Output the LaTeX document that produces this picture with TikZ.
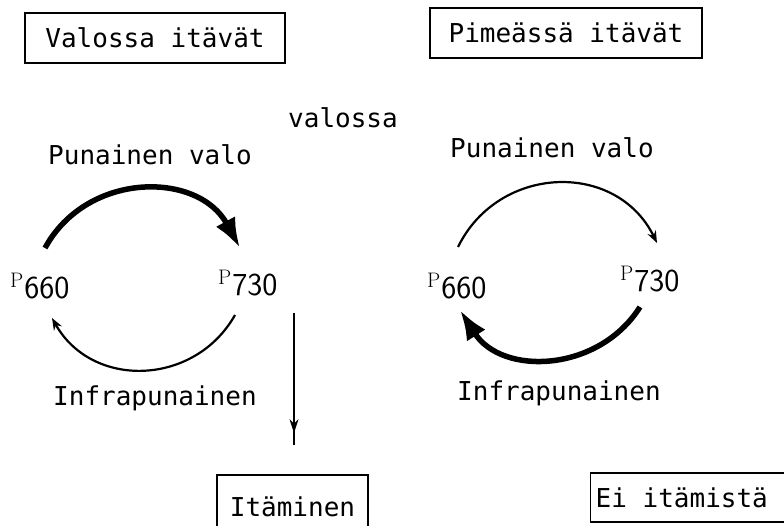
\documentclass[tikz,border=0pt]{standalone}
\usepackage{fontspec}
\newfontfamily\labfont{DejaVu Sans Mono}
\usetikzlibrary{arrows.meta,decorations.markings}
\newcommand\Plab[1]{{\rmfamily\fontsize{21}{21}\selectfont P}\kern1pt\raisebox{-11pt}{\sffamily\fontsize{32}{32}\selectfont #1}}
\begin{document}
\begin{tikzpicture}[x=1pt,y=-1pt,
  lbl/.style={font=\labfont\fontsize{26}{28}\selectfont, inner sep=0pt, anchor=base west},
  plbl/.style={inner sep=0pt, anchor=base west},
  boxnode/.style={draw, line width=1.4pt, font=\labfont\fontsize{26}{28}\selectfont, inner sep=0pt},
  thinarc/.style={line width=2.2pt},
  thickarc/.style={line width=5.5pt},
  bigtip/.style={-{Latex[length=30pt,width=22pt]}},
  smalltip/.style={-{Stealth[length=12pt,width=9pt]}}]
\useasboundingbox (0,0) rectangle (784,526);
\clip (0,0) rectangle (784,526);

% boxes
\node[boxnode, minimum width=260pt, minimum height=50pt] (b1) at (155,38) {Valossa itävät};
\node[boxnode, minimum width=272pt, minimum height=50pt] (b2) at (566,33) {Pimeässä itävät};
\node[boxnode, minimum width=151pt, minimum height=64pt] (b3) at (292.5,507) {Itäminen};
\node[boxnode, anchor=west, minimum height=49pt, inner xsep=5pt] (b4) at (590,497.5) {Ei itämistä\hspace*{40pt}};

% labels
\node[lbl] (val) at (288,128) {valossa};
\node[lbl] (pvL) at (48,165) {Punainen valo};
\node[lbl] (pvR) at (450,158) {Punainen valo};
\node[lbl] (irL) at (53,405) {Infrapunainen};
\node[lbl] (irR) at (457,400) {Infrapunainen};

% P labels
\node[plbl] (p660L) at (10,288) {\Plab{660}};
\node[plbl] (p730L) at (218,285) {\Plab{730}};
\node[plbl] (p660R) at (427,288) {\Plab{660}};
\node[plbl] (p730R) at (620,281) {\Plab{730}};

% arc end points
\coordinate (ulA) at (45,248);  \coordinate (ulB) at (240,248);
\coordinate (llA) at (235,315); \coordinate (llB) at (52,318);
\coordinate (urA) at (458,247); \coordinate (urB) at (657,243);
\coordinate (lrA) at (640,307); \coordinate (lrB) at (460,310);
\coordinate (vtop) at (294,313); \coordinate (vbot) at (294,445);

% left cycle
\draw[thickarc, bigtip] (ulA) .. controls (87,171) and (198,171) .. (ulB);
\draw[thinarc, smalltip] (llA) .. controls (194.8,386.3) and (92.2,389.3) .. (llB);
% right cycle
\draw[thinarc, smalltip] (urA) .. controls (498.5,164.3) and (616.5,160.3) .. (urB);
\draw[thickarc, bigtip] (lrA) .. controls (598.2,372.9) and (501.8,375.9) .. (lrB);

% vertical arrow
\draw[line width=1.5pt, decoration={markings, mark=at position 0.91 with {\arrow{Stealth[length=14pt,width=9pt]}}}, postaction={decorate}] (vtop) -- (vbot);
\end{tikzpicture}
\end{document}
